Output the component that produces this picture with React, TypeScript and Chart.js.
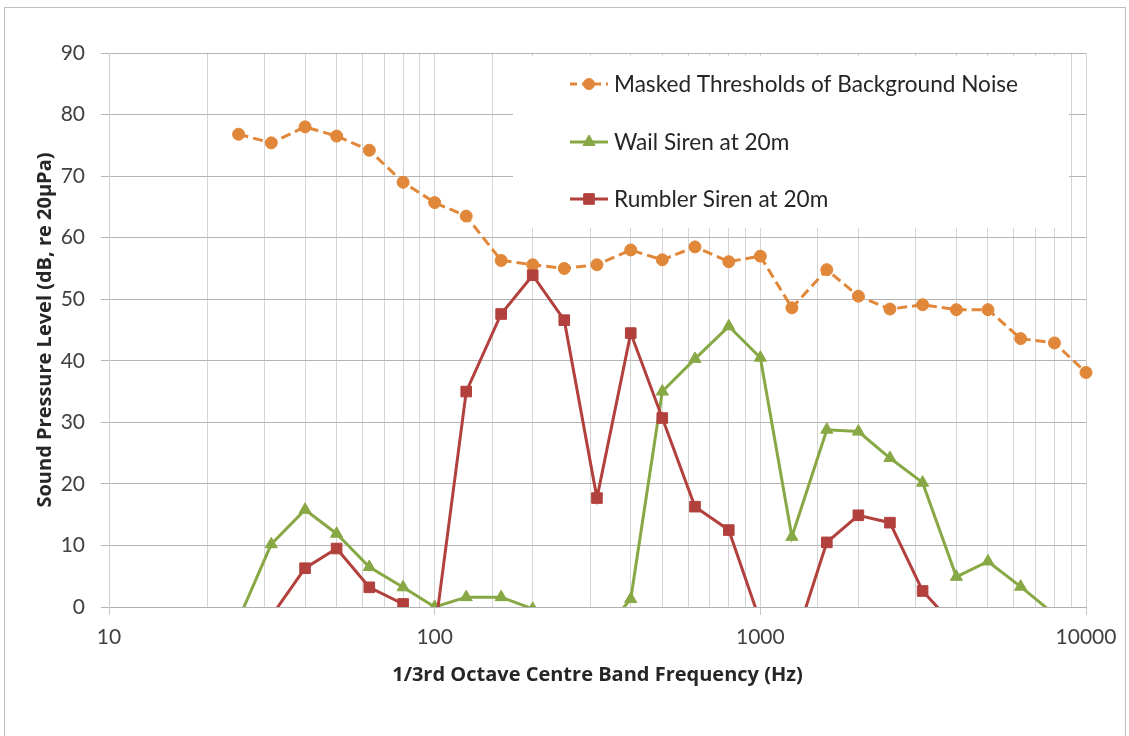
import React, { useEffect, useRef } from 'react';
import { Chart, registerables } from 'chart.js';

Chart.register(...registerables);

// 1/3 octave centre band frequencies (Hz)
const frequencies = [25, 31.5, 40, 50, 63, 80, 100, 125, 160, 200, 250, 315, 400, 500, 630, 800, 1000, 1250, 1600, 2000, 2500, 3150, 4000, 5000, 6300, 8000, 10000];

const maskedThresholds = [76.8, 75.4, 78.0, 76.5, 74.2, 69.0, 65.7, 63.5, 56.3, 55.6, 55.0, 55.6, 58.0, 56.4, 58.5, 56.1, 57.0, 48.6, 54.8, 50.5, 48.4, 49.1, 48.3, 48.3, 43.6, 42.9, 38.1];
const wailSiren = [-2.0, 10.2, 15.8, 11.9, 6.5, 3.2, 0.0, 1.6, 1.6, -0.3, -4.0, -5.3, 1.3, 35.0, 40.3, 45.6, 40.5, 11.4, 28.8, 28.5, 24.2, 20.2, 4.9, 7.4, 3.3, -1.2, null];
const rumblerSiren = [null, -1.5, 6.3, 9.5, 3.2, 0.5, -4.2, 35.0, 47.6, 53.9, 46.6, 17.7, 44.5, 30.7, 16.3, 12.5, -2.4, -7.1, 10.5, 14.9, 13.7, 2.6, -3.4, null, null, null, null];

const seriesLabels = ['Masked Thresholds of Background Noise', 'Wail Siren at 20m', 'Rumbler Siren at 20m'];
const xTickLabels = [10, 100, 1000, 10000];
const xTitle = '1/3rd Octave Centre Band Frequency (Hz)';
const yTitle = 'Sound Pressure Level (dB, re 20µPa)';

const ORANGE = '#E1873A';
const GREEN = '#88A845';
const RED = '#B2403D';

const TICK_FONT = 'Lato';
const TITLE_FONT = '"Open Sans"';

function drawMarker(ctx: CanvasRenderingContext2D, style: string, x: number, y: number, color: string) {
  ctx.save();
  ctx.fillStyle = color;
  ctx.strokeStyle = color;
  ctx.lineWidth = 1;
  ctx.setLineDash([]);
  ctx.beginPath();
  if (style === 'circle') {
    ctx.arc(x, y, 5.5, 0, Math.PI * 2);
  } else if (style === 'rect') {
    const s = 7.5 * Math.SQRT1_2;
    ctx.rect(x - s, y - s, 2 * s, 2 * s);
  } else {
    const r = 7;
    ctx.moveTo(x, y - r);
    ctx.lineTo(x + r * 0.866, y + r / 2);
    ctx.lineTo(x - r * 0.866, y + r / 2);
    ctx.closePath();
  }
  ctx.fill();
  ctx.stroke();
  ctx.restore();
}

const legendPlugin = {
  id: 'insideLegend',
  afterDatasetsDraw(chart: any) {
    const ctx: CanvasRenderingContext2D = chart.ctx;
    const ca = chart.chartArea;
    const boxLeft = ca.left + 404;
    const boxTop = ca.top + 3;
    const boxRight = ca.right - 17;
    const boxBottom = ca.top + 175;
    ctx.save();
    ctx.fillStyle = '#ffffff';
    ctx.fillRect(boxLeft, boxTop, boxRight - boxLeft, boxBottom - boxTop);
    const styles = ['circle', 'triangle', 'rect'];
    const colors = [ORANGE, GREEN, RED];
    const rowY = [ca.top + 31, ca.top + 89, ca.top + 146];
    const x0 = ca.left + 461;
    const x1 = ca.left + 499;
    const mx = ca.left + 480;
    for (let i = 0; i < seriesLabels.length; i++) {
      const y = rowY[i];
      ctx.strokeStyle = colors[i];
      ctx.lineWidth = 3;
      ctx.setLineDash(i === 0 ? [7, 5] : []);
      ctx.beginPath();
      ctx.moveTo(x0, y);
      ctx.lineTo(x1, y);
      ctx.stroke();
      drawMarker(ctx, styles[i], mx, y, colors[i]);
      ctx.setLineDash([]);
      ctx.fillStyle = '#262626';
      ctx.font = `22.6px ${TICK_FONT}`;
      ctx.textAlign = 'left';
      ctx.textBaseline = 'middle';
      ctx.fillText(seriesLabels[i], ca.left + 505, y + 1);
    }
    ctx.restore();
  },
};

export default function App() {
  const canvasRef = useRef<HTMLCanvasElement | null>(null);

  useEffect(() => {
    const canvas = canvasRef.current;
    if (!canvas) return;
    const toPoints = (vals: (number | null)[]) => frequencies.map((f, i) => ({ x: f, y: vals[i] }));
    const clip = { left: 12, top: 12, right: 12, bottom: 0 } as any;
    const chart = new Chart(canvas, {
      type: 'line',
      data: {
        datasets: [
          {
            label: seriesLabels[0],
            data: toPoints(maskedThresholds) as any,
            borderColor: ORANGE,
            backgroundColor: ORANGE,
            borderWidth: 3,
            borderDash: [10, 5],
            pointStyle: 'circle',
            pointRadius: 6,
            pointBorderWidth: 1,
            tension: 0,
            order: 2,
            clip,
          },
          {
            label: seriesLabels[1],
            data: toPoints(wailSiren) as any,
            borderColor: GREEN,
            backgroundColor: GREEN,
            borderWidth: 3,
            pointStyle: 'triangle',
            pointRadius: 7,
            pointBorderWidth: 1,
            tension: 0,
            order: 1,
            clip,
          },
          {
            label: seriesLabels[2],
            data: toPoints(rumblerSiren) as any,
            borderColor: RED,
            backgroundColor: RED,
            borderWidth: 3,
            pointStyle: 'rect',
            pointRadius: 7.5,
            pointBorderWidth: 1,
            tension: 0,
            order: 0,
            clip,
          },
        ],
      },
      options: {
        responsive: false,
        animation: false,
        devicePixelRatio: 1,
        spanGaps: false,
        layout: { padding: { left: 0, top: 53, right: 43, bottom: 0 } },
        plugins: {
          legend: { display: false },
          tooltip: { enabled: false },
        },
        scales: {
          x: {
            type: 'logarithmic',
            position: 'bottom',
            min: 10,
            max: 10000,
            afterFit: (scale: any) => { scale.height = 129; },
            ticks: {
              autoSkip: false,
              maxRotation: 0,
              padding: 10,
              color: '#404040',
              font: { family: TICK_FONT, size: 21 },
              callback: (v: any) => (xTickLabels.includes(Number(v)) ? String(v) : ''),
            },
            grid: {
              color: '#d4d4d4',
              tickLength: 8,
              tickColor: (ctx: any) => (ctx.tick && xTickLabels.includes(ctx.tick.value) ? '#c4c4c4' : 'rgba(0,0,0,0)'),
            },
            border: { display: true, color: '#b0b0b0' },
            title: {
              display: true,
              text: xTitle,
              color: '#262626',
              font: { family: TITLE_FONT, size: 20, weight: 'bold' },
              padding: { top: 0, bottom: 49 },
            },
          },
          y: {
            type: 'linear',
            min: 0,
            max: 90,
            afterFit: (scale: any) => { scale.width = 109; },
            ticks: {
              stepSize: 10,
              padding: 16,
              color: '#404040',
              font: { family: TICK_FONT, size: 21 },
            },
            grid: {
              color: '#b4b4b4',
              tickLength: 8,
              tickColor: '#b4b4b4',
            },
            border: { display: true, color: '#cfcfcf' },
            title: {
              display: true,
              text: yTitle,
              color: '#262626',
              font: { family: TITLE_FONT, size: 20, weight: 'bold' },
              padding: { top: 33, bottom: 0 },
            },
          },
        },
      },
      plugins: [legendPlugin],
    });
    return () => chart.destroy();
  }, []);

  return (
    <div style={{ position: 'fixed', left: 0, top: 0, width: 1129, height: 736, background: '#ffffff', overflow: 'hidden' }}>
      <div style={{ position: 'absolute', left: 4, top: 7, width: 1122, height: 800, border: '1px solid #bfbfbf', boxSizing: 'border-box' }} />
      <canvas ref={canvasRef} width={1129} height={736} style={{ position: 'absolute', left: 0, top: 0, width: 1129, height: 736, display: 'block' }} />
    </div>
  );
}
